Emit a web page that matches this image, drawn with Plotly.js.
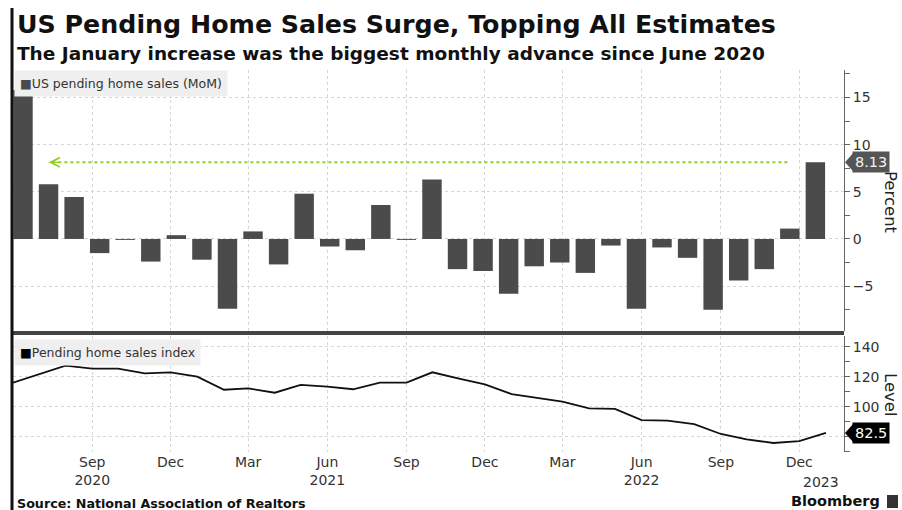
<!DOCTYPE html>
<html>
<head>
<meta charset="utf-8">
<script src="https://cdn.plot.ly/plotly-3.0.1.min.js"></script>
<style>
  html, body { margin: 0; padding: 0; background: #fff; }
  #chart { width: 902px; height: 510px; }
</style>
</head>
<body>
<div id="chart"></div>
<script>
// ---- Data ----
const months = [
  '2020-06-01','2020-07-01','2020-08-01','2020-09-01','2020-10-01','2020-11-01','2020-12-01',
  '2021-01-01','2021-02-01','2021-03-01','2021-04-01','2021-05-01','2021-06-01','2021-07-01',
  '2021-08-01','2021-09-01','2021-10-01','2021-11-01','2021-12-01',
  '2022-01-01','2022-02-01','2022-03-01','2022-04-01','2022-05-01','2022-06-01','2022-07-01',
  '2022-08-01','2022-09-01','2022-10-01','2022-11-01','2022-12-01',
  '2023-01-01'
];
// US pending home sales, month over month change (%)
const momChange = [
  15.8, 5.8, 4.45, -1.5, -0.1, -2.4, 0.4,
  -2.2, -7.4, 0.8, -2.7, 4.8, -0.8, -1.2,
  3.6, -0.1, 6.3, -3.2, -3.4,
  -5.8, -2.9, -2.5, -3.6, -0.7, -7.4, -0.9,
  -2.0, -7.5, -4.4, -3.2, 1.1,
  8.13
];
// Pending home sales index (level)
const salesIndex = [
  116.0, 121.6, 127.3, 125.3, 125.3, 122.2, 122.9,
  120.0, 111.3, 112.2, 109.3, 114.5, 113.3, 111.6,
  116.0, 116.0, 122.9, 118.7, 114.9,
  108.4, 105.6, 103.3, 98.9, 98.5, 91.1, 90.7,
  88.4, 81.8, 78.2, 75.8, 77.1,
  82.5
];
const tickDates = ['2020-09-01','2020-12-01','2021-03-01','2021-06-01','2021-09-01','2021-12-01',
                   '2022-03-01','2022-06-01','2022-09-01','2022-12-01'];
const tickLabels = ['Sep<br>2020','Dec','Mar','Jun<br>2021','Sep','Dec','Mar','Jun<br>2022','Sep','Dec'];
const lastYearLabel = '2023';
const pctTicks = [-5, 0, 5, 10, 15];
const levelTicks = [80, 100, 120, 140];

// ---- Styling ----
const FONT = 'DejaVu Sans, Verdana, sans-serif';
const GRID = '#d6d6d6';
const AXIS = '#666';
const BAR = '#4b4b4b';
const GREEN = '#8fd12a';

const barIndex = months.map((_, i) => i);
const n = months.length;
const lastMom = momChange[n - 1];
const lastLevel = salesIndex[n - 1];

const traces = [
  {
    type: 'bar', x: barIndex, y: momChange, xaxis: 'x2', yaxis: 'y',
    width: 0.76, marker: {color: BAR, line: {width: 0}},
    hoverinfo: 'y', showlegend: false
  },
  {
    type: 'scatter', mode: 'lines', x: months, y: salesIndex, xaxis: 'x', yaxis: 'y2',
    line: {color: '#111', width: 1.8}, hoverinfo: 'y', showlegend: false
  },
  { // keeps the top date axis (grid) alive
    type: 'scatter', mode: 'markers', x: months, y: momChange.map(() => null),
    xaxis: 'x3', yaxis: 'y', hoverinfo: 'skip', showlegend: false
  }
];

const pxToPaperY = p => (452 - p) / 382;
const pxToPaperX = p => (p - 13) / 831;

const layout = {
  width: 902, height: 510,
  margin: {l: 13, r: 58, t: 70, b: 58},
  paper_bgcolor: '#fff', plot_bgcolor: '#fff',
  font: {family: FONT, size: 14, color: '#333'},
  showlegend: false,
  xaxis: {
    type: 'date', range: ['2020-06-01', '2023-01-22'], anchor: 'y2', domain: [0, 1],
    tickmode: 'array', tickvals: tickDates, ticktext: tickLabels,
    showgrid: true, gridcolor: GRID, griddash: 'dot', gridwidth: 1,
    ticks: '', showline: false, zeroline: false,
    tickfont: {family: FONT, size: 14, color: '#333'}, fixedrange: true
  },
  xaxis3: {
    type: 'date', matches: 'x', anchor: 'y',
    tickmode: 'array', tickvals: tickDates, showticklabels: false,
    showgrid: true, gridcolor: GRID, griddash: 'dot', gridwidth: 1,
    ticks: '', showline: false, zeroline: false
  },
  xaxis2: {
    overlaying: 'x3', anchor: 'y', range: [-0.391, 32.12], visible: false, fixedrange: true
  },
  yaxis: {
    domain: [0.3168, 1], side: 'right', range: [-9.76, 17.92],
    tickmode: 'array', tickvals: pctTicks,
    showgrid: true, gridcolor: GRID, griddash: 'dot', zeroline: false,
    showline: true, linecolor: AXIS, linewidth: 1,
    ticks: 'outside', ticklen: 5, tickcolor: AXIS,
    minor: {tickmode: 'array', tickvals: [-7.5, -2.5, 2.5, 7.5, 12.5, 17.5], ticks: 'outside', ticklen: 5, tickcolor: AXIS, showgrid: false},
    tickfont: {family: FONT, size: 14, color: '#333'}, fixedrange: true
  },
  yaxis2: {
    domain: [0, 0.3037], side: 'right', range: [69.8, 147.1],
    tickmode: 'array', tickvals: levelTicks, ticktext: ['', '100', '120', '140'],
    showgrid: true, gridcolor: GRID, griddash: 'dot', zeroline: false,
    showline: true, linecolor: AXIS, linewidth: 1,
    ticks: 'outside', ticklen: 5, tickcolor: AXIS,
    minor: {tickmode: 'array', tickvals: [70, 90, 110, 130], ticks: 'outside', ticklen: 5, tickcolor: AXIS, showgrid: false},
    tickfont: {family: FONT, size: 14, color: '#333'}, fixedrange: true
  },
  shapes: [
    // panel separator
    {type: 'line', xref: 'paper', yref: 'paper', x0: 0, x1: 1, y0: pxToPaperY(333), y1: pxToPaperY(333),
     line: {color: '#444', width: 4}},
    // left black rule
    {type: 'line', xref: 'paper', yref: 'paper', x0: pxToPaperX(12), x1: pxToPaperX(12),
     y0: pxToPaperY(8), y1: pxToPaperY(512), line: {color: '#111', width: 3}},
    // green dotted reference line at latest value
    {type: 'line', xref: 'x2', yref: 'y', x0: 1.15, x1: n - 2, y0: lastMom, y1: lastMom,
     line: {color: GREEN, width: 2, dash: 'dot'}},
    // tag pointers
    {type: 'path', xref: 'paper', yref: 'y', xsizemode: 'pixel', ysizemode: 'pixel',
     xanchor: 1, yanchor: lastMom, path: 'M1,0 L10,-10 L10,10 Z', fillcolor: '#555', line: {width: 0}},
    {type: 'path', xref: 'paper', yref: 'y2', xsizemode: 'pixel', ysizemode: 'pixel',
     xanchor: 1, yanchor: lastLevel, path: 'M1,0 L10,-10 L10,10 Z', fillcolor: '#000', line: {width: 0}},
    // Bloomberg mark
    {type: 'rect', xref: 'paper', yref: 'paper', x0: pxToPaperX(887), x1: pxToPaperX(898),
     y0: pxToPaperY(508), y1: pxToPaperY(495), fillcolor: '#333', line: {width: 0}}
  ],
  annotations: [
    {xref: 'paper', yref: 'paper', x: pxToPaperX(15), y: pxToPaperY(25), xanchor: 'left', yanchor: 'middle',
     text: '<b>US Pending Home Sales Surge, Topping All Estimates</b>', showarrow: false,
     font: {family: FONT, size: 25.3, color: '#111'}},
    {xref: 'paper', yref: 'paper', x: pxToPaperX(15), y: pxToPaperY(53), xanchor: 'left', yanchor: 'middle',
     text: '<b>The January increase was the biggest monthly advance since June 2020</b>', showarrow: false,
     font: {family: FONT, size: 18.5, color: '#111'}},
    {xref: 'paper', yref: 'paper', x: pxToPaperX(15), y: pxToPaperY(503), xanchor: 'left', yanchor: 'middle',
     text: '<b>Source: National Association of Realtors</b>', showarrow: false,
     font: {family: FONT, size: 12.7, color: '#111'}},
    {xref: 'paper', yref: 'paper', x: pxToPaperX(882), y: pxToPaperY(501), xanchor: 'right', yanchor: 'middle',
     text: '<b>Bloomberg</b>', showarrow: false,
     font: {family: FONT, size: 14.5, color: '#111'}},
    // legend boxes
    {xref: 'paper', yref: 'paper', x: pxToPaperX(14), y: 1, xanchor: 'left', yanchor: 'top',
     text: '<span style="color:' + BAR + '">■</span>US pending home sales (MoM)', showarrow: false,
     bgcolor: '#efefef', borderpad: 5, font: {family: FONT, size: 12.5, color: '#333'}},
    {xref: 'paper', yref: 'paper', x: pxToPaperX(14), y: pxToPaperY(339), xanchor: 'left', yanchor: 'top',
     text: '<span style="color:#000">■</span>Pending home sales index', showarrow: false,
     bgcolor: '#efefef', borderpad: 5, font: {family: FONT, size: 12.5, color: '#333'}},
    // axis titles
    {xref: 'paper', yref: 'paper', x: pxToPaperX(891), y: pxToPaperY(202), xanchor: 'center', yanchor: 'middle',
     textangle: 90, text: 'Percent', showarrow: false, font: {family: FONT, size: 16.5, color: '#222'}},
    {xref: 'paper', yref: 'paper', x: pxToPaperX(891), y: pxToPaperY(395), xanchor: 'center', yanchor: 'middle',
     textangle: 90, text: 'Level', showarrow: false, font: {family: FONT, size: 16.5, color: '#222'}},
    // value tags
    {xref: 'paper', yref: 'y', x: pxToPaperX(852), y: lastMom, xanchor: 'left', yanchor: 'middle',
     text: lastMom.toFixed(2), showarrow: false, bgcolor: '#555', borderpad: 2,
     font: {family: FONT, size: 14.5, color: '#f2f2f2'}},
    {xref: 'paper', yref: 'y2', x: pxToPaperX(852), y: lastLevel, xanchor: 'left', yanchor: 'middle',
     text: lastLevel.toFixed(1), showarrow: false, bgcolor: '#000', borderpad: 2,
     font: {family: FONT, size: 14.5, color: '#fff'}},
    // year label for the last tick group
    {xref: 'x', yref: 'paper', x: months[n - 1], xshift: -5, y: pxToPaperY(482), yanchor: 'middle',
     text: lastYearLabel, showarrow: false, font: {family: FONT, size: 14, color: '#333'}},
    // arrow head of the green reference line
    {xref: 'x2', yref: 'y', x: 1, y: lastMom, axref: 'x2', ayref: 'y', ax: 1.5, ay: lastMom,
     text: '', showarrow: true, arrowhead: 5, arrowsize: 1.4, arrowwidth: 1.3, arrowcolor: GREEN}
  ]
};

Plotly.newPlot('chart', traces, layout, {displayModeBar: false, staticPlot: true});
</script>
</body>
</html>
